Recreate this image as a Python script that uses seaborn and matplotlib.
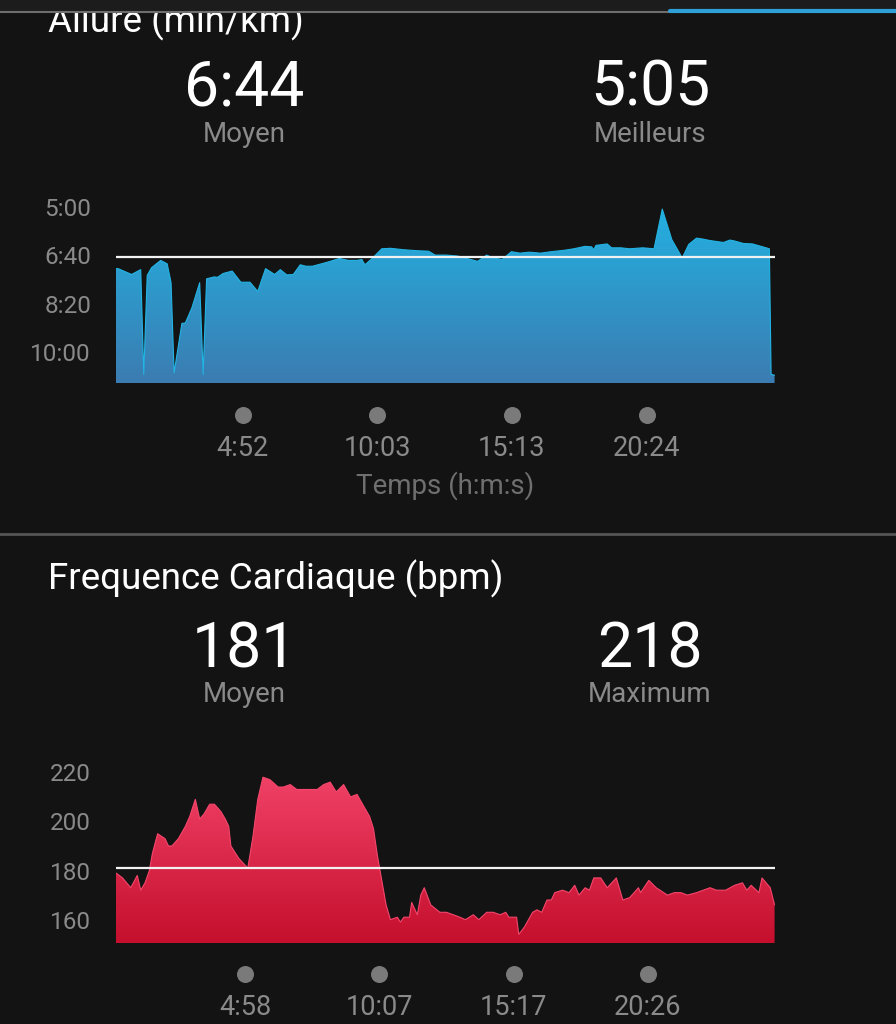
import numpy as np
import pandas as pd
import matplotlib
matplotlib.use("Agg")
import matplotlib.pyplot as plt
import seaborn as sns
from matplotlib.colors import LinearSegmentedColormap
from matplotlib.patches import Rectangle

# --- data ---
pace_t = [0, 5, 36, 57, 64, 72, 82, 103, 118, 127, 134, 152, 160, 175, 193, 201, 209, 227,
          234, 247, 268, 288, 309, 327, 345, 366, 379, 394, 409, 425, 438, 453, 474, 494,
          515, 536, 556, 567, 574, 592, 613, 633, 664, 695, 721, 736, 762, 788, 814, 834,
          855, 870, 891, 912, 932, 953, 979, 1004, 1035, 1056, 1082, 1097, 1102, 1107, 1133,
          1143, 1164, 1185, 1215, 1241, 1260, 1282, 1306, 1321, 1339, 1354, 1370, 1401, 1416,
          1427, 1447, 1468, 1488, 1507, 1511, 1519]
pace_s = [428, 428, 440, 430, 646, 442, 426, 411, 418, 457, 643, 541, 540, 509, 457, 646, 449, 445,
          446, 438, 433, 456, 456, 475, 428, 440, 430, 441, 440, 420, 423, 423, 418, 413,
          407, 411, 411, 409, 420, 406, 387, 386, 389, 391, 392, 400, 400, 402, 408, 413,
          400, 406, 409, 393, 396, 394, 396, 393, 390, 387, 382, 383, 389, 380, 377,
          385, 385, 387, 385, 387, 305, 368, 406, 378, 365, 367, 370, 374, 369,
          371, 376, 377, 382, 387, 646, 648]
pace_ticks = [300, 400, 500, 600]
pace_ticklabels = ["5:00", "6:40", "8:20", "10:00"]
pace_xticks = [292, 603, 913, 1224]
pace_xlabels = ["4:52", "10:03", "15:13", "20:24"]
pace_avg = 404

hr_t = [0, 15, 34, 49, 57, 67, 77, 84, 96, 113, 121, 129, 144, 160, 170, 183, 193, 203, 216,
        227, 242, 252, 260, 265, 283, 304, 316, 327, 339, 355, 374, 386, 402, 417, 433, 448,
        464, 479, 494, 508, 525, 541, 556, 572, 585, 594, 603, 613, 623, 633, 649, 656, 664,
        677, 682, 695, 703, 711, 726, 747, 762, 778, 793, 806, 824, 837, 855, 870, 886, 899,
        906, 924, 929, 942, 961, 971, 982, 994, 1004, 1012, 1030, 1045, 1058, 1068, 1082,
        1092, 1102, 1118, 1133, 1154, 1169, 1185, 1205, 1210, 1229, 1246, 1272, 1288, 1303,
        1318, 1339, 1370, 1385, 1406, 1427, 1445, 1455, 1465, 1483, 1490, 1509, 1519]
hr_bpm = [179, 177, 173, 178, 172, 175, 180, 187, 195, 193, 190, 190, 193, 198, 202, 209, 201, 203, 207,
          207, 204, 201, 198, 190, 185, 181, 194, 209, 218, 217, 214, 214, 215, 213, 213, 213,
          213, 215, 216, 212, 215, 210, 211, 206, 202, 197, 186, 176, 166, 160, 161, 159, 161,
          161, 167, 162, 170, 173, 166, 163, 163, 162, 161, 160, 162, 160, 163, 163, 162, 163,
          161, 161, 154, 157, 163, 164, 163, 168, 168, 171, 172, 171, 174, 170, 173,
          172, 177, 177, 173, 177, 168, 169, 173, 171, 176, 173, 170, 171, 171,
          170, 171, 173, 172, 172, 174, 175, 172, 174, 171, 177, 173, 166]
hr_ticks = [160, 180, 200, 220]
hr_xticks = [298, 607, 917, 1226]
hr_xlabels = ["4:58", "10:07", "15:17", "20:26"]
hr_avg = 181

BG = "#131313"
GREY = "#8a8a8a"

sns.set_style("dark")
plt.rcParams["font.family"] = ["Roboto", "DejaVu Sans"]

fig = plt.figure(figsize=(8.96, 10.24), dpi=100)
fig.patch.set_facecolor(BG)


def gradient_area(ax, x, y, base, top_col, bot_col, line_col):
    df = pd.DataFrame({"t": x, "v": y})
    poly = ax.fill_between(df["t"], df["v"], base, color="none", lw=0)
    cmap = LinearSegmentedColormap.from_list("g", [bot_col, top_col])
    grad = np.linspace(0, 1, 256).reshape(-1, 1)
    y0, y1 = ax.get_ylim()
    img = ax.imshow(grad, aspect="auto", cmap=cmap, origin="lower",
                    extent=[x[0], x[-1], min(y0, y1), max(y0, y1)], zorder=2)
    if y0 > y1:
        img.set_data(grad[::-1])
    img.set_clip_path(poly.get_paths()[0], transform=ax.transData)
    sns.lineplot(data=df, x="t", y="v", ax=ax, color=line_col, lw=0.8, zorder=3,
                 estimator=None, sort=False)


def style_axes(ax, yticks, ylabels, xticks, xlabels):
    ax.set_facecolor(BG)
    for s in ax.spines.values():
        s.set_visible(False)
    ax.grid(False)
    ax.set_yticks(yticks)
    ax.set_yticklabels(ylabels, color=GREY, fontsize=17.5)
    ax.tick_params(axis="y", length=0, pad=18)
    ax.set_xticks([])
    ax.set_xlabel("")
    ax.set_ylabel("")
    tr = ax.get_xaxis_transform()
    ax.scatter(xticks, [-0.17] * len(xticks), s=150, color="#7a7a7a", transform=tr,
               clip_on=False, zorder=5, linewidths=0)
    for xt, lab in zip(xticks, xlabels):
        ax.text(xt, -0.35, lab, transform=tr, ha="center", va="center",
                color=GREY, fontsize=19.5)


# pace chart
ax1 = fig.add_axes([116 / 896, 1 - 383 / 1024, 659 / 896, 188 / 1024])
ax1.set_xlim(0, 1520)
ax1.set_ylim(664, 276)
gradient_area(ax1, pace_t, pace_s, 664, "#22b4e4", "#3b7cb1", "#22b4e4")
ax1.axhline(pace_avg, color="#f2f2f2", lw=1.6, zorder=4)
style_axes(ax1, pace_ticks, pace_ticklabels, pace_xticks, pace_xlabels)
ax1.set_xlim(0, 1520)
ax1.set_ylim(664, 276)

# heart rate chart
ax2 = fig.add_axes([116 / 896, 1 - 943 / 1024, 659 / 896, 183 / 1024])
ax2.set_xlim(0, 1520)
ax2.set_ylim(150.5, 225)
gradient_area(ax2, hr_t, hr_bpm, 150.5, "#f4466c", "#c50f2d", "#f4466c")
ax2.axhline(hr_avg, color="#f2f2f2", lw=1.6, zorder=4)
style_axes(ax2, hr_ticks, [str(v) for v in hr_ticks], hr_xticks, hr_xlabels)
ax2.set_xlim(0, 1520)
ax2.set_ylim(150.5, 225)


def fy(px):
    return 1 - px / 1024


def fx(px):
    return px / 896


# header texts
fig.text(fx(48), fy(32), "Allure (min/km)", color="white", fontsize=26.5, va="baseline")
fig.patches.append(Rectangle((0, fy(11)), 1, 11 / 1024, transform=fig.transFigure,
                             color="#1c1c1c", zorder=10))
fig.add_artist(plt.Line2D([0, fx(670)], [fy(12), fy(12)], color="#6e6e6e", lw=1.5, zorder=11))
fig.add_artist(plt.Line2D([fx(670), 1], [fy(11), fy(11)], color="#2f9fd8", lw=3, zorder=11))

fig.text(fx(244), fy(88), "6:44", color="white", fontsize=45, ha="center", va="center")
fig.text(fx(650), fy(88), "5:05", color="white", fontsize=45, ha="center", va="center")
fig.text(fx(244), fy(134), "Moyen", color=GREY, fontsize=20, ha="center", va="center")
fig.text(fx(650), fy(134), "Meilleurs", color=GREY, fontsize=20, ha="center", va="center")
fig.text(fx(445), fy(486), "Temps (h:m:s)", color="#6f6f6f", fontsize=20, ha="center", va="center")

fig.add_artist(plt.Line2D([0, 1], [fy(534), fy(534)], color="#555555", lw=2))

fig.text(fx(48), fy(579), "Frequence Cardiaque (bpm)", color="white", fontsize=26.5, va="center")
fig.text(fx(244), fy(650), "181", color="white", fontsize=45, ha="center", va="center")
fig.text(fx(650), fy(650), "218", color="white", fontsize=45, ha="center", va="center")
fig.text(fx(244), fy(694), "Moyen", color=GREY, fontsize=20, ha="center", va="center")
fig.text(fx(650), fy(694), "Maximum", color=GREY, fontsize=20, ha="center", va="center")

fig.savefig("out.png", dpi=100, facecolor=BG)
